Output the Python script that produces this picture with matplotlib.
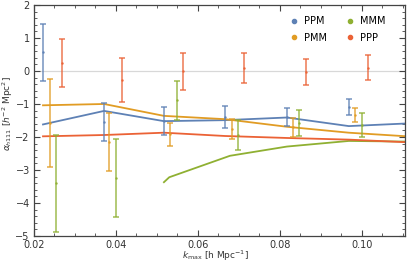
import numpy as np
import matplotlib
matplotlib.use('Agg')
import matplotlib.pyplot as plt
from matplotlib.ticker import MultipleLocator

# measured points (error bars), one set per configuration
k_ppm = [0.0222, 0.0371, 0.0517, 0.0666, 0.0817, 0.0968]
lo_ppm = [-0.29, -2.11, -1.94, -1.72, -1.66, -1.34]
hi_ppm = [1.42, -0.96, -1.08, -1.06, -1.13, -0.86]

k_pmm = [0.0239, 0.0383, 0.0532, 0.0682, 0.0832, 0.0984]
lo_pmm = [-2.92, -3.03, -2.27, -2.07, -1.99, -1.54]
hi_pmm = [-0.24, -1.26, -1.57, -1.46, -1.43, -1.13]

k_mmm = [0.0254, 0.0399, 0.0548, 0.0697, 0.0847, 0.0999]
lo_mmm = [-4.87, -4.41, -1.48, -2.39, -1.96, -1.99]
hi_mmm = [-1.93, -2.06, -0.30, -1.48, -1.18, -1.26]

k_ppp = [0.0268, 0.0415, 0.0563, 0.0712, 0.0863, 0.1014]
lo_ppp = [-0.49, -0.93, -0.58, -0.37, -0.42, -0.27]
hi_ppp = [0.96, 0.40, 0.55, 0.55, 0.37, 0.48]

# curves
k_line = [0.0222, 0.0371, 0.0517, 0.0666, 0.0817, 0.0968, 0.111]
line_ppm = [-1.62, -1.21, -1.52, -1.49, -1.41, -1.67, -1.59]
line_pmm = [-1.04, -1.00, -1.36, -1.46, -1.69, -1.87, -1.98]
line_ppp = [-1.98, -1.94, -1.87, -1.97, -2.03, -2.08, -2.16]
k_line_mmm = [0.0517, 0.0530, 0.0678, 0.0817, 0.0968, 0.111]
line_mmm = [-3.37, -3.22, -2.57, -2.29, -2.12, -2.14]

colors = {'PPM': '#5E81B5', 'PMM': '#E19C24', 'MMM': '#8FB032', 'PPP': '#EB6235'}

plt.rcParams['font.family'] = 'DejaVu Sans'
plt.rcParams['mathtext.fontset'] = 'dejavusans'
fig = plt.figure(figsize=(4.07, 2.70), dpi=100)
ax = fig.add_axes([0.0835, 0.126, 0.9115, 0.8555])

ax.axhline(0, color='#d8d8d8', lw=0.9, zorder=0)

ax.plot(k_line, line_ppm, color=colors['PPM'], lw=1.3)
ax.plot(k_line, line_pmm, color=colors['PMM'], lw=1.3)
ax.plot(k_line_mmm, line_mmm, color=colors['MMM'], lw=1.3)
ax.plot(k_line, line_ppp, color=colors['PPP'], lw=1.3)

sets = [('PPM', k_ppm, lo_ppm, hi_ppm), ('PMM', k_pmm, lo_pmm, hi_pmm),
        ('MMM', k_mmm, lo_mmm, hi_mmm), ('PPP', k_ppp, lo_ppp, hi_ppp)]
for name, k, lo, hi in sets:
    lo = np.array(lo)
    hi = np.array(hi)
    mid = (lo + hi) / 2
    ax.errorbar(k, mid, yerr=(hi - lo) / 2, fmt='o', ms=0.8, color=colors[name],
                elinewidth=1.1, capsize=2.2, capthick=1.1, alpha=0.85)

# legend handles
for name in ['PPM', 'PMM', 'MMM', 'PPP']:
    ax.plot([], [], 'o', ms=3, color=colors[name], label=name)
ax.legend(loc='upper right', ncol=2, frameon=False, fontsize=7,
          handlelength=1.0, handletextpad=0.6, columnspacing=1.8,
          labelspacing=0.7, bbox_to_anchor=(0.972, 0.99))

ax.set_xlim(0.02, 0.1105)
ax.set_ylim(-5, 2)
ax.xaxis.set_minor_locator(MultipleLocator(0.005))
ax.yaxis.set_minor_locator(MultipleLocator(0.2))
ax.set_xticks([0.02, 0.04, 0.06, 0.08, 0.10])
ax.set_xticklabels(['0.02', '0.04', '0.06', '0.08', '0.10'])
ax.set_yticks(range(-5, 3))
ax.set_yticklabels(['\u22125', '\u22124', '\u22123', '\u22122', '\u22121', '0', '1', '2'])
ax.tick_params(which='both', direction='in', top=True, right=True, labelsize=7,
               color='#444444', labelcolor='#333333')
ax.tick_params(which='major', length=4, width=0.8, pad=3)
ax.tick_params(which='minor', length=2, width=0.6)
for s in ax.spines.values():
    s.set_color('#444444')
    s.set_linewidth(0.9)

ax.set_xlabel(r'$k_{\rm max}$ [h Mpc$^{-1}$]', fontsize=6.5, color='#333333')
ax.set_ylabel(r'$\alpha_{h111}$ [$h^{-2}$ Mpc$^{2}$]', fontsize=6.5, color='#333333')
ax.xaxis.set_label_coords(0.488, -0.056)
ax.yaxis.set_label_coords(-0.051, 0.53)

fig.savefig('out.png', dpi=100)
